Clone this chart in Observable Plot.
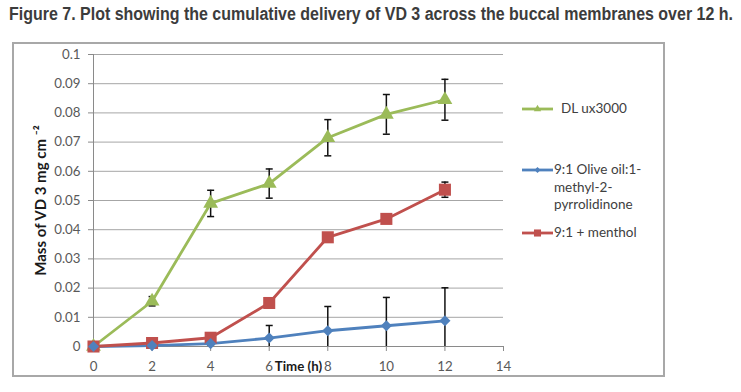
<!DOCTYPE html>
<html>
<head>
<meta charset="utf-8">
<script src="https://cdn.jsdelivr.net/npm/d3@7"></script>
<script src="https://cdn.jsdelivr.net/npm/@observablehq/plot@0.6"></script>
<style>
  html, body { margin: 0; padding: 0; background: #fff; width: 741px; height: 392px; overflow: hidden; }
  #title { position: absolute; left: 9px; top: 4px; white-space: nowrap; font-family: "Liberation Sans Narrow", "Liberation Sans", Arial, sans-serif; font-weight: bold; font-size: 17.5px; color: #3c3c3c; transform-origin: left top; }
  #box { position: absolute; left: 12px; top: 42px; width: 653px; height: 335px; box-sizing: border-box; border: 2px solid #a8a8a8; }
  #chart { position: absolute; left: 0px; top: 0px; }
  #legend { position: absolute; left: 0; top: 0; font-family: Lato, "Open Sans", sans-serif; font-size: 13.5px; color: #404040; }
  .item { position: absolute; display: flex; align-items: flex-start; white-space: nowrap; }
  .item span { line-height: 17.7px; }
  svg [aria-label="x-axis label"] text { font-weight: bold; fill: #1a1a1a; }
  svg [aria-label="y-axis label"] text { font-weight: bold; fill: #1a1a1a; font-size: 15px; }
</style>
</head>
<body>
<div id="title">Figure 7. Plot showing the cumulative delivery of VD 3 across the buccal membranes over 12 h.</div>
<div id="box"><div id="chart"></div></div>
<div id="legend"></div>
<script>
// ---- data ----
const times = [0, 2, 4, 6, 8, 10, 12];
const seriesNames = ["DL ux3000", "9:1 Olive oil:1-methyl-2-pyrrolidinone", "9:1 + menthol"];
const dlux = [0, 0.0155, 0.049, 0.0558, 0.0715, 0.0795, 0.0845];
const dluxErr = [0, 0.0016, 0.0045, 0.005, 0.0062, 0.0068, 0.007];
const olive = [0, 0.0003, 0.001, 0.0029, 0.0054, 0.0071, 0.0088];
const oliveErr = [0, 0.0003, 0.0005, 0.0043, 0.0083, 0.0097, 0.0113];
const menthol = [0, 0.0012, 0.003, 0.0149, 0.0374, 0.0437, 0.0537];
const mentholErr = [0, 0.0004, 0.0006, 0.001, 0.0012, 0.0012, 0.0026];
const xTicks = [0, 2, 4, 6, 8, 10, 12, 14];
const yTicks = [0, 0.01, 0.02, 0.03, 0.04, 0.05, 0.06, 0.07, 0.08, 0.09, 0.1];
const yTickLabels = ["0", "0.01", "0.02", "0.03", "0.04", "0.05", "0.06", "0.07", "0.08", "0.09", "0.1"];
const colors = ["#9bbb59", "#4f81bd", "#c0504d"];
const symbols = ["triangle", "diamond2", "square"];

// ---- build table ----
const raw = [[dlux, dluxErr], [olive, oliveErr], [menthol, mentholErr]];
const rows = [];
raw.forEach(([vals, errs], s) => {
  times.forEach((t, i) => rows.push({series: seriesNames[s], s, t, v: vals[i], e: errs[i],
    lo: Math.max(0, vals[i] - errs[i]), hi: vals[i] + errs[i], loOk: vals[i] - errs[i] >= 0}));
});

const cap = { draw(ctx, size) { const w = Math.sqrt(size / Math.PI); ctx.moveTo(-w, 0); ctx.lineTo(w, 0); } };

const marks = [
  Plot.gridY(yTicks, {stroke: "#a6a6a6", strokeOpacity: 1, strokeWidth: 1}),
  Plot.ruleX([0], {stroke: "#8a8a8a"}),
  Plot.ruleY([0], {stroke: "#8a8a8a"}),
  Plot.axisY(yTicks, {tickSize: 5, tickPadding: 8, stroke: "#8a8a8a", tickFormat: (d, i) => yTickLabels[i],
    label: "Mass of VD 3 mg cm ⁻²", labelAnchor: "center", labelArrow: "none", labelOffset: 58, fill: "#595959"}),
  Plot.axisX(xTicks, {tickSize: 5, tickPadding: 10, stroke: "#8a8a8a", tickFormat: d => String(d),
    label: "Time (h)", labelAnchor: "center", labelArrow: "none", labelOffset: 24, fill: "#595959"}),
  Plot.ruleX(rows.filter(d => d.e > 0), {x: "t", y1: "lo", y2: "hi", stroke: "#111", strokeWidth: 1.5}),
  Plot.dot(rows.filter(d => d.e > 0), {x: "t", y: "hi", symbol: cap, r: 3.5, stroke: "#111", strokeWidth: 1.5, fill: "none"}),
  Plot.dot(rows.filter(d => d.e > 0 && d.loOk), {x: "t", y: "lo", symbol: cap, r: 3.5, stroke: "#111", strokeWidth: 1.5, fill: "none"}),
];
[0, 1, 2].forEach(s => {
  const data = rows.filter(d => d.s === s);
  marks.push(Plot.line(data, {x: "t", y: "v", stroke: colors[s], strokeWidth: 2.8}));
});
const rSizes = [5.5, 5, 6.8];
[0, 2, 1].forEach(s => {
  const data = rows.filter(d => d.s === s);
  marks.push(Plot.dot(data, {x: "t", y: "v", symbol: symbols[s], r: rSizes[s], fill: colors[s], stroke: "none"}));
});

const chart = Plot.plot({
  width: 500, height: 331,
  marginLeft: 79, marginRight: 11, marginTop: 10, marginBottom: 29,
  x: {domain: [0, 14], axis: null},
  y: {domain: [0, 0.1], axis: null},
  style: {fontFamily: "Lato, 'Open Sans', sans-serif", fontSize: "13.3px", color: "#595959", background: "transparent", overflow: "visible"},
  marks
});
document.getElementById("chart").appendChild(chart);

// ---- legend ----
const legendItems = [
  {s: 0, lines: ["DL ux3000"], y: 109, tx: 561},
  {s: 1, lines: ["9:1 Olive oil:1-", "methyl-2-", "pyrrolidinone"], y: 170, tx: 554},
  {s: 2, lines: ["9:1 + menthol"], y: 233, tx: 554},
];
const legendSizes = [24, 22, 50];
const legendSymbols = [d3.symbolTriangle, d3.symbolDiamond2, d3.symbolSquare];
const legend = document.getElementById("legend");
legendItems.forEach(it => {
  const div = document.createElement("div");
  div.className = "item";
  div.style.left = "522px";
  div.style.top = (it.y - 9) + "px";
  const sw = d3.create("svg").attr("width", it.tx - 522).attr("height", 18).style("flex", "none");
  sw.append("line").attr("x1", 0).attr("x2", 31).attr("y1", 9).attr("y2", 9).attr("stroke", colors[it.s]).attr("stroke-width", 2.8);
  sw.append("path").attr("d", d3.symbol(legendSymbols[it.s], legendSizes[it.s])()).attr("transform", "translate(15.5,9)").attr("fill", colors[it.s]);
  div.appendChild(sw.node());
  const span = document.createElement("span");
  span.innerHTML = it.lines.join("<br>");
  div.appendChild(span);
  legend.appendChild(div);
});

// fit title to reference width
const title = document.getElementById("title");
const w = title.getBoundingClientRect().width;
title.style.transform = `scaleX(${724 / w})`;
</script>
</body>
</html>
